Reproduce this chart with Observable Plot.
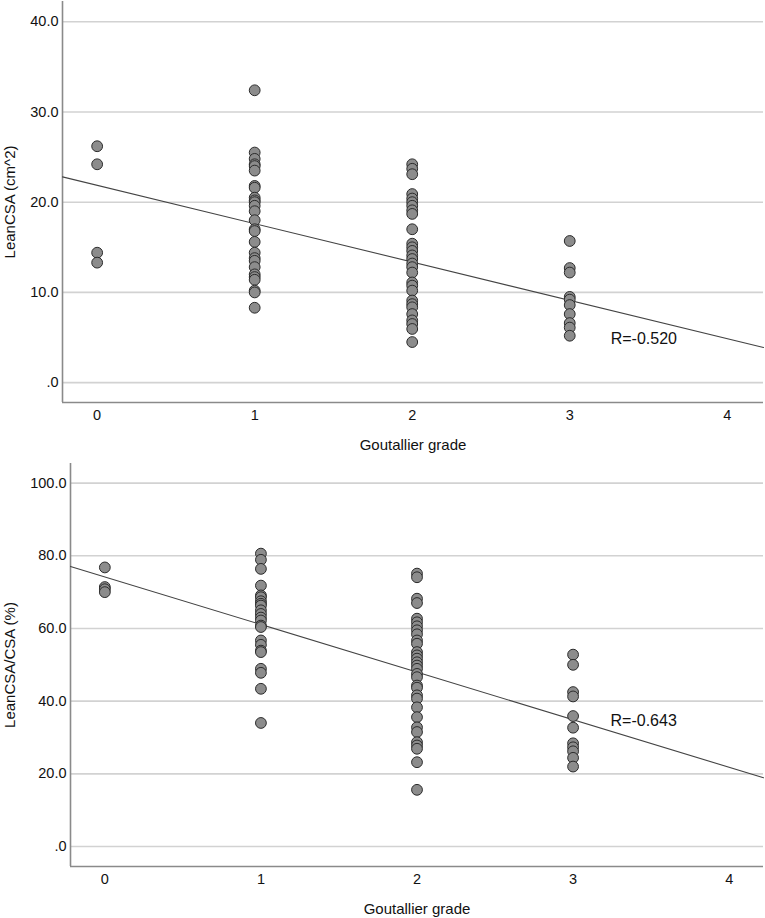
<!DOCTYPE html>
<html>
<head>
<meta charset="utf-8">
<script src="https://cdn.jsdelivr.net/npm/d3@7"></script>
<script src="https://cdn.jsdelivr.net/npm/@observablehq/plot@0.6"></script>
<style>
  html, body { margin: 0; padding: 0; background: #fff; }
  #chart { width: 765px; }
  #chart svg { display: block; overflow: visible; }
</style>
</head>
<body>
<div id="chart"></div>
<script>
// ---------- Data ----------
const gradeTicks = [0, 1, 2, 3, 4];

// Panel A: LeanCSA (cm^2) by Goutallier grade
const leanG0 = [26.2, 24.2, 14.4, 13.3];
const leanG1 = [32.4, 25.5, 24.8, 24.2, 24.0, 23.5, 21.8, 21.6, 20.5, 20.2, 20.0, 19.6, 19.0, 18.0, 17.0, 16.8, 15.6, 14.4, 13.8, 13.5, 12.8, 12.0, 11.7, 11.4, 10.2, 10.0, 8.3];
const leanG2 = [24.2, 23.7, 23.1, 20.9, 20.4, 20.0, 19.6, 19.1, 18.7, 17.0, 15.4, 15.0, 14.6, 14.1, 13.7, 13.2, 12.8, 12.2, 11.1, 10.75, 10.2, 9.1, 8.7, 8.35, 7.6, 6.9, 6.5, 5.95, 4.5];
const leanG3 = [15.7, 12.7, 12.2, 9.5, 9.2, 8.6, 7.6, 6.6, 6.1, 5.2];
const leanTicks = [0, 10, 20, 30, 40];
const leanFit = [21.87, -4.25];          // intercept, slope
const leanR = ["R=-0.520"];
const leanRPos = [3.26, 4.8];           // grade, value

// Panel B: LeanCSA/CSA (%) by Goutallier grade
const ratioG0 = [76.8, 71.4, 70.8, 70.0];
const ratioG1 = [80.6, 78.9, 76.4, 71.8, 69.1, 68.6, 67.5, 66.8, 66.3, 65.0, 64.0, 63.0, 62.2, 60.8, 60.4, 56.7, 55.5, 53.9, 53.5, 48.9, 47.8, 43.4, 34.0];
const ratioG2 = [75.1, 74.1, 68.2, 67.0, 62.7, 61.7, 60.6, 59.5, 58.4, 56.7, 55.8, 53.5, 52.6, 51.7, 50.7, 49.8, 48.9, 47.5, 46.6, 44.3, 43.7, 41.6, 40.7, 38.3, 35.6, 32.8, 31.5, 28.7, 27.8, 26.9, 23.2, 15.6];
const ratioG3 = [52.8, 50.0, 42.5, 41.3, 35.9, 32.7, 28.4, 27.3, 26.2, 24.4, 22.0];
const ratioTicks = [0, 20, 40, 60, 80, 100];
const ratioFit = [74.2, -13.1];
const ratioR = ["R=-0.643"];
const ratioRPos = [3.24, 34.5];

// ---------- Build ----------
const FONT = "'Liberation Sans', Arial, Helvetica, sans-serif";
const fmtY = d => d === 0 ? ".0" : d.toFixed(1);
const fmtX = d => d3.format("d")(d);

function toRows(groups) {
  const rows = [];
  groups.forEach((vals, g) => vals.forEach(v => rows.push({grade: g, value: v})));
  return rows;
}

function panel({rows, yLabel, yTicks, yDomain, xDomain, fit, rText, rPos, height, marginTop, marginBottom, marginLeft}) {
  const fitLine = xDomain.map(x => ({grade: x, value: fit[0] + fit[1] * x}));
  return Plot.plot({
    width: 765,
    height,
    marginTop,
    marginBottom,
    marginLeft,
    marginRight: 2,
    style: {fontFamily: FONT, fontSize: "14px", color: "#000", background: "transparent"},
    x: {domain: xDomain, axis: null},
    y: {domain: yDomain, axis: null},
    marks: [
      Plot.ruleY(yTicks, {stroke: "#d2d2d2", strokeWidth: 1.6}),
      // y tick labels
      Plot.text(yTicks, {x: () => xDomain[0], y: d => d, text: fmtY, textAnchor: "end", dx: -4, lineAnchor: "middle", fontSize: 14.5, fill: "#111"}),
      // x tick labels
      Plot.text(gradeTicks, {x: d => d, y: () => yDomain[0], text: fmtX, textAnchor: "middle", dy: 12.5, lineAnchor: "middle", fontSize: 14.5, fill: "#111"}),
      Plot.ruleX([xDomain[0]], {stroke: "#8a8a8a", strokeWidth: 1.6}),
      Plot.ruleY([yDomain[0]], {stroke: "#8a8a8a", strokeWidth: 1.6}),
      Plot.line(fitLine, {x: "grade", y: "value", stroke: "#444", strokeWidth: 1.1}),
      Plot.dot(rows, {x: "grade", y: "value", r: 5.4, fill: "#8c8c8c", stroke: "#2b2b2b", strokeWidth: 1, fillOpacity: 1}),
      Plot.text(rText, {x: () => rPos[0], y: () => rPos[1], text: d => d, textAnchor: "start", fontSize: 16, fill: "#111"}),
      Plot.text([yLabel], {frameAnchor: "left", text: d => d, rotate: -90, dx: -(marginLeft - 9.5), textAnchor: "middle", fontSize: 15, fill: "#111", lineAnchor: "middle"}),
      Plot.text(["Goutallier grade"], {frameAnchor: "bottom", text: d => d, dy: 42.5, textAnchor: "middle", fontSize: 15, fill: "#111", lineAnchor: "middle"})
    ]
  });
}

const chart = document.getElementById("chart");

chart.appendChild(panel({
  rows: toRows([leanG0, leanG1, leanG2, leanG3]),
  yLabel: "LeanCSA (cm^2)",
  yTicks: leanTicks,
  yDomain: [-2.2, 42.24],
  xDomain: [-0.22, 4.23],
  fit: leanFit, rText: leanR, rPos: leanRPos,
  height: 452, marginTop: 1, marginBottom: 50, marginLeft: 62
}));

chart.appendChild(panel({
  rows: toRows([ratioG0, ratioG1, ratioG2, ratioG3]),
  yLabel: "LeanCSA/CSA (%)",
  yTicks: ratioTicks,
  yDomain: [-5.5, 105.4],
  xDomain: [-0.22, 4.22],
  fit: ratioFit, rText: ratioR, rPos: ratioRPos,
  height: 466, marginTop: 11, marginBottom: 52, marginLeft: 70
}));
</script>
</body>
</html>
